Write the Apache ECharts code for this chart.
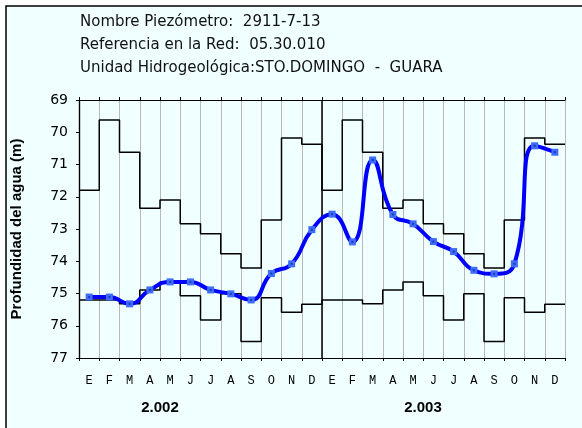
<!DOCTYPE html>
<html>
<head>
<meta charset="utf-8">
<script src="https://cdn.jsdelivr.net/npm/echarts@6/dist/echarts.min.js"></script>
<style>
  html, body { margin: 0; padding: 0; background: #fff; }
</style>
</head>
<body>
<div id="main" style="width: 582px;height: 428px;"></div>
<script>
  // meses (etiquetas del eje x)
  const meses = ['E', 'F', 'M', 'A', 'M', 'J', 'J', 'A', 'S', 'O', 'N', 'D']
  const anios = ['2.002', '2.003']
  // niveles historicos por mes (minima y maxima profundidad)
  const maximo = [71.8, 69.62, 70.62, 72.36, 72.10, 72.84, 73.15, 73.77, 74.21, 72.72, 70.18, 70.37]
  const minimo = [75.20, 75.20, 75.32, 74.89, 74.64, 75.07, 75.82, 75.01, 76.49, 75.13, 75.58, 75.33]
  // medidas del piezometro, un valor por mes (2002 y 2003)
  const medidas = [
    75.11, 75.11, 75.32, 74.89, 74.64, 74.64, 74.89, 75.01, 75.20, 74.38, 74.08, 73.02,
    72.54, 73.40, 70.86, 72.55, 72.84, 73.39, 73.70, 74.28, 74.39, 74.08, 70.42, 70.62
  ]
  const yTicks = [69, 70, 71, 72, 73, 74, 75, 76, 77]

  // escalones que cubren el mes entero, repetidos para los dos anios
  function escalon(arr) {
    let out = []
    anios.forEach((a, k) => {
      arr.forEach((v, i) => out.push([k * 12 + i, v]))
    })
    out.push([anios.length * 12, arr[arr.length - 1]])
    return out
  }
  const puntos = medidas.map((v, i) => [i + 0.5, v])
  const etiquetasMes = anios.flatMap(() => meses)

  let myChart = echarts.init(document.getElementById('main'))
  myChart.setOption({
    animation: false,
    backgroundColor: '#ffffff',
    graphic: [
      { type: 'rect', z: -10, shape: { x: 6, y: 6, width: 600, height: 450 },
        style: { fill: '#f0ffff', stroke: '#000', lineWidth: 1.5 } },
      { type: 'text', left: 80, top: 15, style: { text: 'Nombre Piezómetro:  2911-7-13', font: '15px "DejaVu Sans"', fill: '#111' } },
      { type: 'text', left: 80, top: 38, style: { text: 'Referencia en la Red:  05.30.010', font: '15px "DejaVu Sans"', fill: '#111' } },
      { type: 'text', left: 80, top: 61, style: { text: 'Unidad Hidrogeológica:STO.DOMINGO  -  GUARA', font: '15px "DejaVu Sans"', fill: '#111' } },
      { type: 'text', x: 160, y: 408, style: { text: anios[0], font: 'bold 15px "Liberation Sans"', fill: '#000', align: 'center', verticalAlign: 'middle' } },
      { type: 'text', x: 423, y: 408, style: { text: anios[1], font: 'bold 15px "Liberation Sans"', fill: '#000', align: 'center', verticalAlign: 'middle' } }
    ],
    grid: { left: 79, top: 100, right: 17, bottom: 70 },
    xAxis: [
      { // eje inferior con lineas de los meses
        type: 'value', min: 0, max: 24, interval: 1, position: 'bottom',
        axisLine: { show: true, lineStyle: { color: '#000', width: 1.2 } },
        axisTick: { show: true, length: 3, lineStyle: { color: '#000' } },
        axisLabel: { show: false },
        splitLine: { show: true, lineStyle: { color: '#b8b8b8', width: 1 } }
      },
      { // etiquetas de los meses
        type: 'category', data: etiquetasMes, boundaryGap: true, position: 'bottom',
        axisLine: { show: false }, axisTick: { show: false },
        axisLabel: { interval: 0, margin: 17, fontFamily: '"Liberation Mono"', fontSize: 12, color: '#000' }
      },
      { // borde superior
        type: 'value', min: 0, max: 24, interval: 1, position: 'top',
        axisLine: { show: true, lineStyle: { color: '#000', width: 1.2 } },
        axisTick: { show: true, length: 3, lineStyle: { color: '#000' } },
        axisLabel: { show: false }, splitLine: { show: false }
      }
    ],
    yAxis: [
      {
        type: 'value', inverse: true, min: yTicks[0], max: yTicks[yTicks.length - 1], interval: 1,
        name: 'Profundidad del agua (m)', nameLocation: 'middle', nameRotate: 90, nameGap: 55,
        nameTextStyle: { fontFamily: '"Liberation Sans"', fontWeight: 'bold', fontSize: 15, color: '#000' },
        axisLine: { show: true, lineStyle: { color: '#000', width: 1.2 } },
        axisTick: { show: true, length: 3, lineStyle: { color: '#000' } },
        axisLabel: { margin: 11, fontFamily: '"DejaVu Sans"', fontSize: 14, color: '#000' },
        splitLine: { show: false }
      },
      {
        type: 'value', inverse: true, min: 69, max: 77, position: 'right',
        axisLine: { show: true, lineStyle: { color: '#000', width: 1.2 } },
        axisTick: { show: false }, axisLabel: { show: false }, splitLine: { show: false }
      }
    ],
    series: [
      {
        name: 'Maximo', type: 'line', step: 'end', data: escalon(maximo),
        symbol: 'none', lineStyle: { color: '#000', width: 1.5 },
        markLine: {  // separacion entre anios
          silent: true, symbol: 'none', label: { show: false },
          lineStyle: { color: '#000', width: 1.5, type: 'solid' },
          data: [{ xAxis: 12 }]
        }
      },
      {
        name: 'Minimo', type: 'line', step: 'end', data: escalon(minimo),
        symbol: 'none', lineStyle: { color: '#000', width: 1.5 }
      },
      {
        name: 'Medidas', type: 'line', smooth: 0.5, data: puntos,
        symbol: 'rect', symbolSize: 7,
        itemStyle: { color: '#3d6dff' },
        lineStyle: { color: '#0000ff', width: 4 }, z: 5
      },
      {
        name: 'Centro', type: 'scatter', data: puntos, symbol: 'rect', symbolSize: 2,
        itemStyle: { color: '#1a2a9a' }, z: 6, silent: true
      }
    ]
  })
</script>
</body>
</html>
